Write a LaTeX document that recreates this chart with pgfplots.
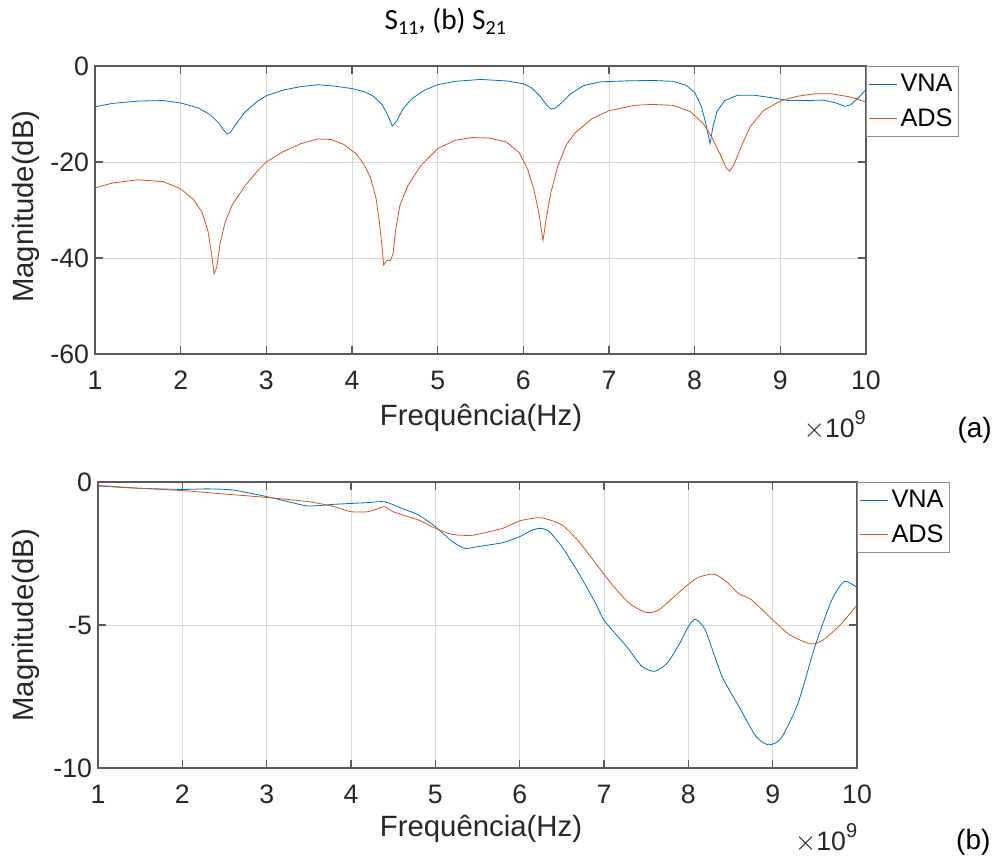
\documentclass[border=0pt]{standalone}
\usepackage{pgfplots}
\pgfplotsset{compat=1.18}
\usepackage{fontspec}
\setmainfont{Liberation Sans}
\newfontfamily\calibri{Carlito}
\definecolor{vna}{rgb}{0,0.447,0.741}
\definecolor{ads}{rgb}{0.85,0.325,0.098}
\definecolor{axg}{rgb}{0.15,0.15,0.15}
\pgfplotsset{mystyle/.style={
  scale only axis, xmin=1, xmax=10, xtick={1,...,10},
  grid=major, major grid style={black!15, line width=0.6pt},
  axis line style={black!65, line width=0.9pt},
  tick style={black!65, line width=0.9pt}, major tick length=6pt, tick align=inside,
  xtick pos=both, ytick pos=both,
  ticklabel style={font=\fontsize{20}{24}\selectfont, text=axg},
  xticklabel style={yshift=-9pt},
  yticklabel style={xshift=-1pt},
  /pgf/number format/assume math mode=true,
  legend style={at={(1,1)}, anchor=north west, draw=black!45, line width=0.6pt,
    font=\fontsize{19}{22}\selectfont, inner xsep=2pt, inner ysep=4pt,
    /tikz/every even column/.append style={column sep=0pt}},
  legend cell align=left,
  legend image code/.code={\draw[#1] (0pt,0pt) -- (21pt,0pt);},
  every axis plot/.append style={line width=0.6pt},
}}
\begin{document}
\begin{tikzpicture}
\useasboundingbox (0pt,0pt) rectangle (748.5pt,-646.5pt);
\node[font=\calibri\fontsize{22}{24}\selectfont] at (334pt,-16pt)
  {S\raisebox{-0.35ex}{\fontsize{15}{16}\selectfont 11}, (b) S\raisebox{-0.35ex}{\fontsize{15}{16}\selectfont 21}};
% ---------- (a) ----------
\begin{axis}[mystyle, at={(71.25pt,-265.5pt)}, anchor=south west,
  width=578.25pt, height=216pt, ymin=-60, ymax=0, ytick={-60,-40,-20,0},
  legend style={row sep=7pt}]
\addplot[vna] coordinates {
(1,-8.5)(1.2,-7.8)(1.5,-7.3)(1.8,-7.2)(2,-7.7)(2.2,-8.7)(2.35,-10.2)(2.45,-12.0)(2.5,-13.3)
(2.54,-14.2)(2.58,-13.8)(2.65,-12.0)(2.75,-9.6)(2.9,-7.3)(3,-6.2)(3.2,-5.0)(3.4,-4.3)(3.6,-3.9)
(3.8,-4.2)(4,-4.7)(4.15,-5.4)(4.25,-6.3)(4.35,-8.0)(4.42,-10.3)(4.47,-12.5)(4.52,-11.5)
(4.6,-8.8)(4.7,-6.8)(4.85,-5.0)(5,-3.9)(5.2,-3.2)(5.5,-2.8)(5.8,-3.1)(6,-3.7)(6.1,-4.6)
(6.2,-6.4)(6.28,-8.3)(6.33,-9.0)(6.38,-8.7)(6.45,-7.6)(6.55,-5.8)(6.7,-4.1)(6.9,-3.3)
(7.2,-3.1)(7.5,-3.0)(7.75,-3.2)(7.9,-4.0)(8.0,-5.5)(8.08,-8.5)(8.13,-12.0)(8.18,-16.2)
(8.21,-13.0)(8.26,-9.5)(8.35,-7.2)(8.5,-6.1)(8.7,-6.1)(8.9,-6.6)(9.1,-7.2)(9.3,-7.2)
(9.5,-7.1)(9.65,-7.7)(9.75,-8.4)(9.82,-8.1)(9.9,-6.8)(10,-4.9)};
\addlegendentry{VNA}
\addplot[ads] coordinates {
(1,-25.4)(1.2,-24.4)(1.5,-23.7)(1.8,-24.1)(2,-25.6)(2.15,-27.8)(2.25,-30.5)(2.32,-34.5)
(2.36,-39.0)(2.39,-43.3)(2.42,-42.0)(2.46,-37.0)(2.52,-32.5)(2.6,-29.0)(2.75,-25.0)(2.9,-21.8)
(3,-20.0)(3.2,-17.8)(3.4,-16.2)(3.6,-15.2)(3.75,-15.3)(3.9,-16.3)(4.05,-18.3)(4.15,-20.8)
(4.22,-23.5)(4.28,-27.5)(4.32,-32.5)(4.35,-37.5)(4.37,-41.5)(4.4,-40.6)(4.45,-40.5)(4.48,-39.0)
(4.51,-34.0)(4.56,-29.0)(4.65,-25.0)(4.8,-20.8)(5,-17.2)(5.2,-15.5)(5.4,-14.9)(5.6,-15.0)
(5.8,-15.8)(5.95,-18.0)(6.05,-21.5)(6.12,-25.5)(6.18,-30.5)(6.23,-36.3)(6.27,-31.5)(6.32,-26.5)
(6.4,-21.0)(6.5,-16.5)(6.6,-14.0)(6.8,-11.0)(7,-9.3)(7.3,-8.2)(7.5,-8.0)(7.75,-8.2)(7.95,-9.5)
(8.1,-12.0)(8.2,-14.8)(8.3,-18.5)(8.37,-21.3)(8.41,-21.9)(8.46,-20.5)(8.55,-16.5)(8.65,-12.6)
(8.8,-9.3)(9,-7.3)(9.2,-6.3)(9.4,-5.8)(9.6,-5.8)(9.8,-6.4)(10,-7.5)};
\addlegendentry{ADS}
\end{axis}
\node[font=\fontsize{22}{26}\selectfont, text=axg] at (360.75pt,-313.5pt) {Frequência(Hz)};
\node[font=\fontsize{22}{26}\selectfont, text=axg, rotate=90] at (19.5pt,-155pt) {Magnitude(dB)};
\node[font=\fontsize{20}{24}\selectfont, text=axg] at (626pt,-319pt) {$\times$10\raisebox{0.9ex}{\fontsize{15}{16}\selectfont 9}};
\node[font=\fontsize{21}{24}\selectfont] at (731pt,-323pt) {(a)};
% ---------- (b) ----------
\begin{axis}[mystyle, at={(73.5pt,-576pt)}, anchor=south west,
  width=569.25pt, height=214.5pt, ymin=-10, ymax=0, ytick={-10,-5,0},
  legend style={row sep=7pt}]
\addplot[vna, smooth, tension=0.4] coordinates {
(1,-0.14)(1.5,-0.22)(2,-0.26)(2.3,-0.24)(2.6,-0.28)(3,-0.51)(3.3,-0.72)(3.5,-0.84)
(3.8,-0.78)(4,-0.75)(4.2,-0.72)(4.4,-0.69)(4.6,-0.92)(4.8,-1.15)(5,-1.56)(5.2,-2.08)
(5.35,-2.32)(5.5,-2.26)(5.8,-2.12)(6,-1.91)(6.15,-1.68)(6.25,-1.62)(6.35,-1.73)(6.5,-2.26)
(6.7,-3.19)(6.9,-4.24)(7,-4.83)(7.2,-5.52)(7.3,-5.87)(7.45,-6.45)(7.6,-6.62)(7.75,-6.33)
(7.9,-5.63)(8.0,-5.06)(8.08,-4.80)(8.2,-5.17)(8.4,-6.80)(8.6,-7.85)(8.8,-8.89)(8.95,-9.19)
(9.1,-8.96)(9.3,-7.74)(9.5,-5.76)(9.7,-4.13)(9.85,-3.48)(10,-3.69)};
\addlegendentry{VNA}
\addplot[ads, smooth, tension=0.4] coordinates {
(1,-0.12)(1.5,-0.22)(2,-0.30)(2.5,-0.42)(3,-0.54)(3.5,-0.69)(3.8,-0.86)(4,-1.04)(4.2,-1.04)
(4.3,-0.95)(4.4,-0.86)(4.5,-1.04)(4.8,-1.33)(5,-1.62)(5.2,-1.83)(5.4,-1.87)(5.5,-1.83)
(5.8,-1.62)(6.0,-1.36)(6.25,-1.25)(6.5,-1.50)(6.7,-2.08)(6.9,-2.84)(7.1,-3.60)(7.3,-4.24)
(7.5,-4.56)(7.65,-4.47)(7.9,-3.83)(8.1,-3.36)(8.3,-3.22)(8.45,-3.48)(8.6,-3.91)(8.75,-4.12)
(9,-4.82)(9.2,-5.34)(9.45,-5.66)(9.6,-5.52)(9.8,-5.00)(10,-4.30)};
\addlegendentry{ADS}
\end{axis}
\node[font=\fontsize{22}{26}\selectfont, text=axg] at (360.75pt,-622pt) {Frequência(Hz)};
\node[font=\fontsize{22}{26}\selectfont, text=axg, rotate=90] at (19.5pt,-469pt) {Magnitude(dB)};
\node[font=\fontsize{20}{24}\selectfont, text=axg] at (619.5pt,-628.5pt) {$\times$10\raisebox{0.9ex}{\fontsize{15}{16}\selectfont 9}};
\node[font=\fontsize{21}{24}\selectfont] at (730pt,-632pt) {(b)};
\end{tikzpicture}
\end{document}
